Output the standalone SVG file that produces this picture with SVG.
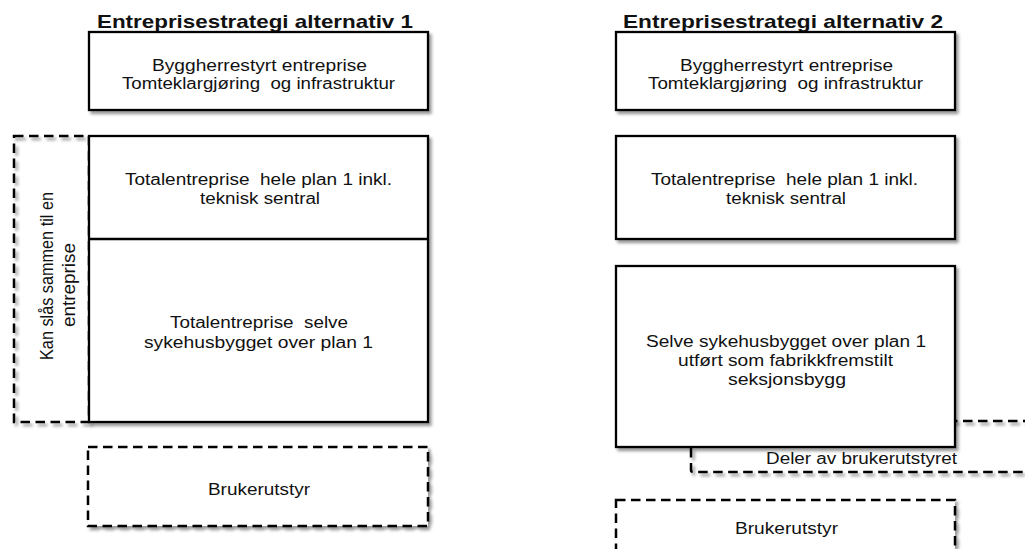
<svg xmlns="http://www.w3.org/2000/svg" width="1025" height="549" viewBox="0 0 1025 549">
<defs>
<filter id="sh" x="-10%" y="-10%" width="130%" height="140%">
<feDropShadow dx="2.5" dy="3" stdDeviation="1.6" flood-color="#000" flood-opacity="0.4"/>
</filter>
<style>
.box{fill:#fff;stroke:#000;stroke-width:2.3}
.dash{fill:none;stroke:#000;stroke-width:2.5;stroke-dasharray:9.5 5.5}
.dashw{fill:#fff;stroke:#000;stroke-width:2.5;stroke-dasharray:9.5 5.5}
.t{font-family:"Liberation Sans",Arial,sans-serif;font-size:16px;fill:#111;text-anchor:middle}
.title{font-family:"Liberation Sans",Arial,sans-serif;font-size:18.5px;font-weight:bold;fill:#111;text-anchor:middle}
</style>
</defs>
<rect width="1025" height="549" fill="#fff"/>

<g id="title1"><text class="title" x="255" y="28" textLength="316" lengthAdjust="spacingAndGlyphs">Entreprisestrategi alternativ 1</text></g>
<g id="title2"><text class="title" x="783" y="28" textLength="320" lengthAdjust="spacingAndGlyphs">Entreprisestrategi alternativ 2</text></g>

<!-- Left column -->
<g id="l-byggherre">
<rect class="box" x="89" y="32" width="339" height="78" filter="url(#sh)"/>
<text class="t" x="259.5" y="70.5" textLength="215" lengthAdjust="spacingAndGlyphs">Byggherrestyrt entreprise</text>
<text class="t" x="258.5" y="89" textLength="273" lengthAdjust="spacingAndGlyphs" xml:space="preserve">Tomteklargjøring  og infrastruktur</text>
</g>

<g id="l-kan-slaas">
<rect class="dash" x="14" y="136" width="75" height="286" filter="url(#sh)"/>
<text class="t" transform="translate(53,276) scale(1.18,1) rotate(-90)" textLength="168" lengthAdjust="spacingAndGlyphs">Kan slås sammen til en</text>
<text class="t" transform="translate(75,285) scale(1.18,1) rotate(-90)" textLength="84" lengthAdjust="spacingAndGlyphs">entreprise</text>
</g>

<g id="l-totalentreprise">
<rect class="box" x="89" y="136" width="339" height="286" filter="url(#sh)"/>
<line x1="89" y1="239" x2="428" y2="239" stroke="#000" stroke-width="2.3"/>
<text class="t" x="258.5" y="185" textLength="267" lengthAdjust="spacingAndGlyphs" xml:space="preserve">Totalentreprise  hele plan 1 inkl.</text>
<text class="t" x="260" y="204" textLength="120" lengthAdjust="spacingAndGlyphs">teknisk sentral</text>
<text class="t" x="259" y="328" textLength="178" lengthAdjust="spacingAndGlyphs" xml:space="preserve">Totalentreprise  selve</text>
<text class="t" x="258.5" y="347.5" textLength="229" lengthAdjust="spacingAndGlyphs">sykehusbygget over plan 1</text>
</g>

<g id="l-brukerutstyr">
<rect class="dashw" x="88" y="447" width="340" height="79" filter="url(#sh)"/>
<text class="t" x="259" y="495" textLength="102" lengthAdjust="spacingAndGlyphs">Brukerutstyr</text>
</g>

<!-- Right column -->
<g id="r-byggherre">
<rect class="box" x="616" y="32" width="339" height="78" filter="url(#sh)"/>
<text class="t" x="786.5" y="70.5" textLength="213" lengthAdjust="spacingAndGlyphs">Byggherrestyrt entreprise</text>
<text class="t" x="785.5" y="89" textLength="275" lengthAdjust="spacingAndGlyphs" xml:space="preserve">Tomteklargjøring  og infrastruktur</text>
</g>

<g id="r-totalentreprise">
<rect class="box" x="616" y="136" width="339" height="103" filter="url(#sh)"/>
<text class="t" x="784.5" y="185" textLength="267" lengthAdjust="spacingAndGlyphs" xml:space="preserve">Totalentreprise  hele plan 1 inkl.</text>
<text class="t" x="786" y="204" textLength="120" lengthAdjust="spacingAndGlyphs">teknisk sentral</text>
</g>

<g id="r-deler">
<rect class="dash" x="691" y="421" width="360" height="51" rx="2" filter="url(#sh)"/>
<text class="t" x="861.5" y="464" textLength="191" lengthAdjust="spacingAndGlyphs">Deler av brukerutstyret</text>
</g>

<g id="r-seksjonsbygg">
<rect class="box" x="616" y="266" width="339" height="181" filter="url(#sh)"/>
<text class="t" x="786" y="346.5" textLength="280" lengthAdjust="spacingAndGlyphs">Selve sykehusbygget over plan 1</text>
<text class="t" x="785.5" y="365.5" textLength="215" lengthAdjust="spacingAndGlyphs">utført som fabrikkfremstilt</text>
<text class="t" x="787" y="384.5" textLength="118" lengthAdjust="spacingAndGlyphs">seksjonsbygg</text>
</g>

<g id="r-brukerutstyr">
<rect class="dashw" x="616" y="500" width="339" height="70" filter="url(#sh)"/>
<text class="t" x="786.5" y="534" textLength="103" lengthAdjust="spacingAndGlyphs">Brukerutstyr</text>
</g>

<g id="connectors"/>
</svg>
